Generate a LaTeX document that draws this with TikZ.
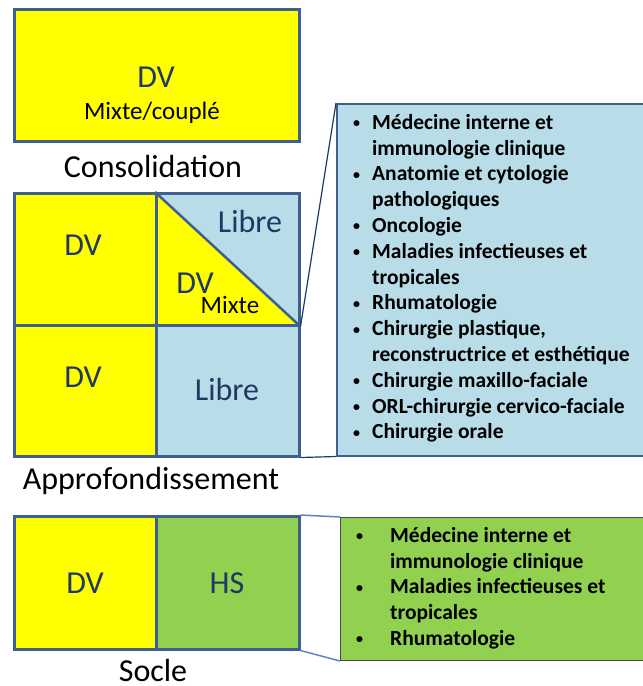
\documentclass[tikz,border=0pt]{standalone}
\usepackage{fontspec}
\setmainfont{Carlito}
\definecolor{yel}{HTML}{FFFF00}
\definecolor{lblue}{HTML}{B8DDE8}
\definecolor{grn}{HTML}{92D050}
\definecolor{bord}{HTML}{3F5F8F}
\definecolor{navy}{HTML}{1F3864}
\definecolor{lline}{HTML}{5B86C0}
\tikzset{
  cell/.style={draw=bord, line width=2.5pt, inner sep=0pt, anchor=north west},
  big/.style={text=navy, font=\fontsize{32}{36}\selectfont, inner sep=0pt},
  lab/.style={text=black, font=\fontsize{32}{36}\selectfont, inner sep=0pt},
  small/.style={text=black, font=\fontsize{25}{28}\selectfont, inner sep=0pt},
  listbox/.style={draw=bord, line width=1.5pt, inner sep=0pt, anchor=north west},
  listtext/.style={inner sep=0pt, anchor=north west},
  conn/.style={draw=navy, line width=1.2pt},
  connl/.style={draw=lline, line width=1.5pt}
}
\newcommand{\bul}{\makebox[20pt][l]{\hspace{1pt}\raisebox{1.5pt}{\fontsize{14}{14}\selectfont •}}}
\newcommand{\bulg}{\makebox[35pt][l]{\hspace{1pt}\raisebox{1.5pt}{\fontsize{14}{14}\selectfont •}}}
\begin{document}
\begin{tikzpicture}[x=1pt,y=-1pt]
\useasboundingbox (0,0) rectangle (643,686);
% Consolidation
\node[cell, fill=yel, minimum width=285pt, minimum height=132pt] (cons) at (13,8) {};
\node[big] (consdv) at (156,77) {DV};
\node[small] (consmix) at (152,113) {Mixte/couplé};
\node[lab] (conslab) at (153,167) {Consolidation};
% Approfondissement
\node[cell, fill=yel, minimum width=142pt, minimum height=132pt] (ul) at (13,192) {};
\node[cell, fill=lblue, minimum width=143pt, minimum height=132pt] (ur) at (155,192) {};
\fill[yel] (ur.north west) -- (ur.south east) -- (ur.south west) -- cycle;
\node[cell, minimum width=143pt, minimum height=132pt] (urb) at (155,192) {};
\draw[bord, line width=2.5pt] (urb.north west) -- (urb.south east);
\node[cell, fill=yel, minimum width=142pt, minimum height=131pt] (ll) at (13,324) {};
\node[cell, fill=lblue, minimum width=143pt, minimum height=131pt] (lr) at (155,324) {};
\node[big] (uldv) at (83,245) {DV};
\node[big] (urlib) at (250,221) {Libre};
\node[big] (urdv) at (195,283) {DV};
\node[small] (urmix) at (230,305) {Mixte};
\node[big] (lldv) at (83,377) {DV};
\node[big] (lrlib) at (227,389) {Libre};
\node[lab] (applab) at (151,481) {Approfondissement};
% blue list
\node[listbox, fill=lblue, minimum width=320pt, minimum height=352pt] (list) at (336,103) {};
\draw[conn] (ur.south east) -- (list.north west);
\draw[conn] (lr.south east) -- (list.south west);
\node[listtext] (listt) at (352,111) {\fontsize{21.5}{25.8}\selectfont\bfseries
\begin{tabular}{@{}l@{}}
\bul Médecine interne et\\
\hspace*{20pt}immunologie clinique\\
\bul Anatomie et cytologie\\
\hspace*{20pt}pathologiques\\
\bul Oncologie\\
\bul Maladies infectieuses et\\
\hspace*{20pt}tropicales\\
\bul Rhumatologie\\
\bul Chirurgie plastique,\\
\hspace*{20pt}reconstructrice et esthétique\\
\bul Chirurgie maxillo-faciale\\
\bul ORL-chirurgie cervico-faciale\\
\bul Chirurgie orale
\end{tabular}};
% Socle
\node[cell, fill=yel, minimum width=142pt, minimum height=133pt] (sdv) at (13,515) {};
\node[cell, fill=grn, minimum width=143pt, minimum height=133pt] (shs) at (155,515) {};
\node[big] (sdvt) at (85,583) {DV};
\node[big] (shst) at (227,583) {HS};
\node[lab] (slab) at (153,670) {Socle};
\node[listbox, draw=black!70, line width=1pt, fill=grn, minimum width=320pt, minimum height=143pt] (glist) at (340,517) {};
\draw[connl] (shs.north east) -- (glist.north west);
\draw[connl] (shs.south east) -- (glist.south west);
\node[listtext] (glistt) at (355,524) {\fontsize{21.5}{25.8}\selectfont\bfseries
\begin{tabular}{@{}l@{}}
\bulg Médecine interne et\\
\hspace*{35pt}immunologie clinique\\
\bulg Maladies infectieuses et\\
\hspace*{35pt}tropicales\\
\bulg Rhumatologie
\end{tabular}};
\end{tikzpicture}
\end{document}
